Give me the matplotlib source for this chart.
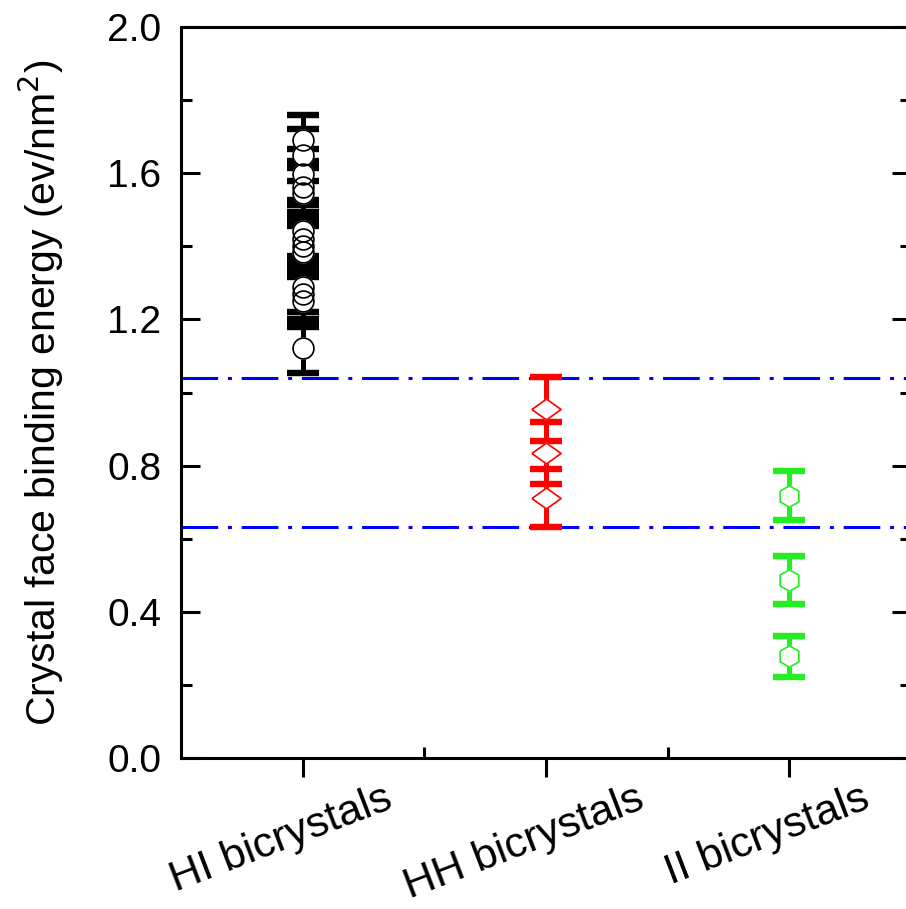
import matplotlib
matplotlib.use("Agg")
import matplotlib.pyplot as plt
from matplotlib.ticker import MultipleLocator, FixedLocator
from matplotlib.transforms import ScaledTranslation

plt.rcParams['font.family'] = ['Liberation Sans', 'DejaVu Sans']

categories = ["HI bicrystals", "HH bicrystals", "II bicrystals"]

hi_values = [1.69, 1.65, 1.597, 1.563, 1.545, 1.443, 1.42, 1.40, 1.385, 1.29, 1.27, 1.25, 1.122]
hi_errors = [0.07] * len(hi_values)

hh_values = [0.955, 0.835, 0.711]
hh_errors = [0.087, 0.085, 0.08]

ii_values = [0.718, 0.487, 0.278]
ii_errors = [0.066, 0.066, 0.057]

ref_lines = [1.04, 0.632]

black = '#000000'
red = '#ff0000'
green = '#22ee22'
blue = '#0000ff'

fig = plt.figure(figsize=(9.06, 9.09), dpi=100)
ax = fig.add_axes([0.1998, 0.1661, 0.8057, 0.8042])

diamond = [(-1.4, 0), (0, 1), (1.4, 0), (0, -1), (-1.4, 0)]

series = [
    (1, hi_values, hi_errors, black, 'o', 15),
    (2, hh_values, hh_errors, red, diamond, 21),
    (3, ii_values, ii_errors, green, 'h', 15.5),
]

for xpos, vals, errs, col, mk, ms in series:
    xs = [xpos] * len(vals)
    ax.errorbar(xs, vals, yerr=errs, fmt='none', ecolor=col, elinewidth=3.6,
                capsize=11.5, capthick=4.6, zorder=2)
    ax.plot(xs, vals, linestyle='none', marker=mk, markersize=ms,
            markerfacecolor='white', markeredgecolor='white', zorder=3)
    ax.plot(xs, vals, linestyle='none', marker=mk, markersize=ms,
            markerfacecolor='none', markeredgecolor=col, markeredgewidth=1.2,
            zorder=4)

for yv in ref_lines:
    ax.axhline(yv, color=blue, linewidth=2.2, dashes=(12, 3.2, 1.3, 3.2), zorder=1)

ax.set_xlim(0.5, 3.5)
ax.set_ylim(0.0, 2.0)

ax.set_xticks([1, 2, 3])
ax.set_xticklabels(categories, rotation=21, ha='center', fontsize=31)
ax.xaxis.set_minor_locator(FixedLocator([1.5, 2.5]))
ax.yaxis.set_major_locator(MultipleLocator(0.4))
ax.yaxis.set_minor_locator(MultipleLocator(0.2))
ax.yaxis.set_major_formatter(matplotlib.ticker.FormatStrFormatter('%.1f'))

ax.tick_params(axis='x', which='major', direction='out', length=14, width=2.2,
               pad=1, top=False)
ax.tick_params(axis='x', which='minor', direction='in', length=8, width=2.2,
               top=False)
ax.tick_params(axis='y', which='major', direction='in', length=14, width=2.2,
               pad=14, labelsize=28, left=True, right=True)
ax.tick_params(axis='y', which='minor', direction='in', length=8, width=2.2,
               left=True, right=True)

offset = ScaledTranslation(-22 / 100, 0, fig.dpi_scale_trans)
for lbl in ax.xaxis.get_majorticklabels():
    lbl.set_transform(lbl.get_transform() + offset)

for sp in ax.spines.values():
    sp.set_linewidth(2.2)

ax.set_ylabel('Crystal face binding energy (ev/nm$^2$)', fontsize=29.5, labelpad=30)

fig.savefig('out.png', dpi=100)
